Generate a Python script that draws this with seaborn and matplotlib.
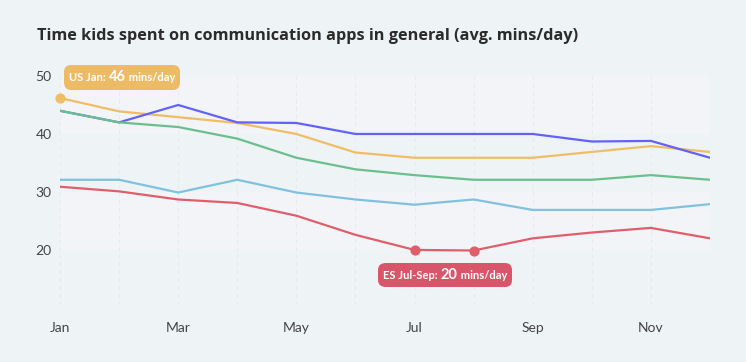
import numpy as np
import pandas as pd
import matplotlib.pyplot as plt
import seaborn as sns
from matplotlib.offsetbox import TextArea, HPacker, AnnotationBbox

# Données (min/jour)
months = ["Jan", "Feb", "Mar", "Apr", "May", "Jun", "Jul", "Aug", "Sep", "Oct", "Nov", "Dec"]
us = [46.2, 43.9, 42.9, 41.9, 40.0, 36.8, 35.9, 35.9, 35.9, 36.9, 37.9, 36.9]
blue_c = [44.0, 42.0, 45.0, 42.0, 41.9, 40.0, 40.0, 40.0, 40.0, 38.7, 38.8, 35.9]
green_c = [44.0, 42.0, 41.2, 39.2, 35.9, 33.9, 32.9, 32.1, 32.1, 32.1, 32.9, 32.1]
lblue_c = [32.1, 32.1, 29.9, 32.1, 29.9, 28.7, 27.8, 28.7, 26.9, 26.9, 26.9, 27.9]
es = [30.9, 30.1, 28.7, 28.1, 25.9, 22.6, 20.0, 19.9, 22.0, 23.0, 23.8, 22.0]
tick_months = ["Jan", "Mar", "May", "Jul", "Sep", "Nov"]
y_ticks = [20, 30, 40, 50]

series = {"US": us, "C2": blue_c, "C3": green_c, "C4": lblue_c, "ES": es}
palette = {"US": "#f0bd66", "C2": "#6262fb", "C3": "#6bbf8c", "C4": "#7fc1df", "ES": "#de5f6b"}

df = pd.DataFrame([
    {"pays": k, "mois": i, "valeur": v}
    for k, vals in series.items() for i, v in enumerate(vals)
])

bg = "#eef3f6"
sns.set_theme(style="white")
plt.rcParams["font.family"] = ["Lato", "DejaVu Sans"]

fig = plt.figure(figsize=(7.46, 3.62), dpi=100, facecolor=bg)
ax = fig.add_axes([60 / 746, 1 - 305 / 362, 650 / 746, 229 / 362])
ax.set_facecolor(bg)

# Bandes horizontales
ax.axhspan(40, 50, color="#f3f4f7", zorder=0, lw=0)
ax.axhspan(20, 30, color="#f3f4f7", zorder=0, lw=0)

# Grille verticale en pointillés
for i in range(len(months)):
    ax.axvline(i, color="#e6e9ee", lw=0.7, ls=(0, (4, 4)), zorder=0.5)

sns.lineplot(data=df, x="mois", y="valeur", hue="pays", palette=palette,
             hue_order=list(series.keys()), linewidth=1.6, legend=False, ax=ax)

# Points mis en valeur
ax.scatter([0], [us[0]], color=palette["US"], s=40, zorder=5, clip_on=False)
ax.scatter([6, 7], [es[6], es[7]], color=palette["ES"], s=40, zorder=5)

ax.set_xlim(0, len(months) - 1)
ax.set_ylim(10.5, 50)
ax.set_xticks([months.index(m) for m in tick_months])
ax.set_xticklabels(tick_months)
ax.set_yticks(y_ticks)
ax.tick_params(axis="x", length=0, pad=12, labelsize=10, labelcolor="#444444")
ax.tick_params(axis="y", length=0, pad=6, labelsize=10, labelcolor="#444444")
ax.set_xlabel("")
ax.set_ylabel("")
for s in ax.spines.values():
    s.set_visible(False)


def badge(parts, xy, color):
    kids = [TextArea(t, textprops=dict(color="white", fontsize=sz, fontweight="bold",
                                         family=["Lato", "DejaVu Sans"]))
            for t, sz in parts]
    box = HPacker(children=kids, align="baseline", pad=0, sep=0)
    ab = AnnotationBbox(box, xy, xycoords="data", frameon=True, box_alignment=(0.5, 0.5),
                        pad=0.35,
                        bboxprops=dict(boxstyle="round,pad=0.35,rounding_size=0.5",
                                       fc=color, ec="none"))
    ab.set_zorder(6)
    ax.add_artist(ab)


badge([("US Jan: ", 8), ("46", 10.5), (" mins/day", 8)], (1.05, 49.8), "#edbb66")
badge([("ES Jul-Sep: ", 8), ("20", 10.5), (" mins/day", 8)], (6.52, 15.7), "#d9566a")

fig.text(37 / 746, 1 - 36 / 362, "Time kids spent on communication apps in general (avg. mins/day)",
         fontsize=11.7, fontweight="bold", color="#2b2b2b", va="center",
         family=["Open Sans", "DejaVu Sans"])

fig.savefig("out.png", dpi=100, facecolor=bg)
